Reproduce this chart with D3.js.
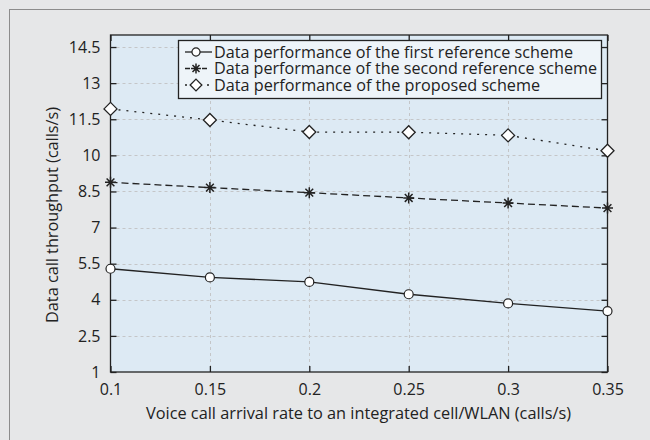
<!DOCTYPE html>
<html>
<head>
<meta charset="utf-8">
<script src="https://cdn.jsdelivr.net/npm/d3@7/dist/d3.min.js"></script>
<style>
  body { margin: 0; background: #e6e7e8; }
  svg { display: block; font-family: "Open Sans", sans-serif; }
</style>
</head>
<body>
<svg id="chart" width="650" height="440"></svg>
<script>
// data
const xValues = [0.1, 0.15, 0.2, 0.25, 0.3, 0.35];
const firstRef = [5.29, 4.93, 4.74, 4.23, 3.85, 3.53];
const secondRef = [8.88, 8.66, 8.45, 8.23, 8.02, 7.81];
const proposed = [11.93, 11.47, 10.97, 10.96, 10.83, 10.19];
const xTicks = [0.1, 0.15, 0.2, 0.25, 0.3, 0.35];
const yTicks = [1, 2.5, 4, 5.5, 7, 8.5, 10, 11.5, 13, 14.5];
const seriesNames = [
  "Data performance of the first reference scheme",
  "Data performance of the second reference scheme",
  "Data performance of the proposed scheme"
];

const width = 650, height = 440;
const plot = { left: 110.5, right: 607.5, top: 35, bottom: 372 };

const svg = d3.select("#chart");

// outer frame (right and bottom edges run off the picture)
svg.append("rect")
  .attr("x", 9.5).attr("y", 9.5)
  .attr("width", width).attr("height", height)
  .attr("fill", "#e6e7e8")
  .attr("stroke", "#8c8c8c")
  .attr("stroke-width", 1);

const x = d3.scaleLinear().domain([0.1, 0.35]).range([plot.left, plot.right]);
const y = d3.scaleLinear().domain([1, 15]).range([plot.bottom, plot.top]);

// plot background
svg.append("rect")
  .attr("x", plot.left).attr("y", plot.top)
  .attr("width", plot.right - plot.left).attr("height", plot.bottom - plot.top)
  .attr("fill", "#ddeaf4");

// grid
const grid = svg.append("g")
  .attr("stroke", "#c4c6c8")
  .attr("stroke-width", 1)
  .attr("stroke-dasharray", "3,3");
grid.selectAll(".gx").data(xTicks.slice(1, -1)).join("line")
  .attr("x1", d => Math.round(x(d)) + 0.5).attr("x2", d => Math.round(x(d)) + 0.5)
  .attr("y1", plot.top).attr("y2", plot.bottom);
grid.selectAll(".gy").data(yTicks.slice(1)).join("line")
  .attr("x1", plot.left).attr("x2", plot.right)
  .attr("y1", d => Math.round(y(d)) + 0.5).attr("y2", d => Math.round(y(d)) + 0.5);

// axes (inward ticks, mirrored box)
const tickStyle = g => {
  g.select(".domain").remove();
  g.selectAll("line").attr("stroke", "#222").attr("stroke-width", 1.3);
};
svg.append("g")
  .attr("transform", `translate(0,${plot.bottom})`)
  .call(d3.axisBottom(x).tickValues(xTicks).tickSize(-6).tickPadding(12).tickFormat(d3.format("")))
  .call(tickStyle)
  .call(g => g.selectAll("text").attr("font-size", 16).attr("fill", "#222").attr("font-family", "Open Sans"));
svg.append("g")
  .attr("transform", `translate(0,${plot.top})`)
  .call(d3.axisTop(x).tickValues(xTicks).tickSize(-6).tickFormat(""))
  .call(tickStyle);
svg.append("g")
  .attr("transform", `translate(${plot.left},0)`)
  .call(d3.axisLeft(y).tickValues(yTicks).tickSize(-6).tickPadding(10).tickFormat(d3.format("")))
  .call(tickStyle)
  .call(g => g.selectAll("text").attr("font-size", 16).attr("fill", "#222").attr("font-family", "Open Sans"));
svg.append("g")
  .attr("transform", `translate(${plot.right},0)`)
  .call(d3.axisRight(y).tickValues(yTicks).tickSize(-6).tickFormat(""))
  .call(tickStyle);

// plot box
svg.append("rect")
  .attr("x", plot.left).attr("y", plot.top)
  .attr("width", plot.right - plot.left).attr("height", plot.bottom - plot.top)
  .attr("fill", "none").attr("stroke", "#222").attr("stroke-width", 1.3);

// axis titles
svg.append("text")
  .attr("x", 358.5).attr("y", 419)
  .attr("text-anchor", "middle")
  .attr("font-size", 16).attr("fill", "#222")
  .attr("textLength", 425).attr("lengthAdjust", "spacingAndGlyphs")
  .text("Voice call arrival rate to an integrated cell/WLAN (calls/s)");
svg.append("text")
  .attr("transform", "translate(58,215) rotate(-90)")
  .attr("text-anchor", "middle")
  .attr("font-size", 16).attr("fill", "#222")
  .attr("textLength", 216).attr("lengthAdjust", "spacingAndGlyphs")
  .text("Data call throughput (calls/s)");

// markers
const drawMarker = (g, type, k = 1) => {
  if (type === "circle") {
    g.append("circle").attr("r", 4.5 * k).attr("fill", "#fff").attr("stroke", "#222").attr("stroke-width", 1.2);
  } else if (type === "diamond") {
    const r = 6.5 * k;
    g.append("path").attr("d", `M0,${-r}L${r},0L0,${r}L${-r},0Z`)
      .attr("fill", "#fff").attr("stroke", "#222").attr("stroke-width", 1.3);
  } else {
    const s = 5.5 * k, t = s * 0.707;
    g.append("path").attr("d", `M${-s},0H${s}M0,${-s}V${s}M${-t},${-t}L${t},${t}M${-t},${t}L${t},${-t}`)
      .attr("stroke", "#222").attr("stroke-width", 1.5);
  }
};

const series = [
  { name: seriesNames[0], values: firstRef, dash: null, legendDash: null, marker: "circle" },
  { name: seriesNames[1], values: secondRef, dash: "7,4", legendDash: "5,12", marker: "star" },
  { name: seriesNames[2], values: proposed, dash: "2,6", legendDash: "2,9", marker: "diamond" }
];

const line = d3.line().x((d, i) => x(xValues[i])).y(d => y(d));

series.forEach(s => {
  svg.append("path")
    .attr("d", line(s.values))
    .attr("fill", "none")
    .attr("stroke", "#222")
    .attr("stroke-width", 1.3)
    .attr("stroke-dasharray", s.dash);
  s.values.forEach((v, i) => {
    const g = svg.append("g").attr("transform", `translate(${x(xValues[i])},${y(v)})`);
    drawMarker(g, s.marker);
  });
});

// legend
const legend = svg.append("g");
legend.append("rect")
  .attr("x", 178.5).attr("y", 40.5).attr("width", 423).attr("height", 58)
  .attr("fill", "#eef4f9").attr("stroke", "#222").attr("stroke-width", 1.3);
const rowY = [52, 68.5, 85];
const textLens = [359, 383, 326];
series.forEach((s, i) => {
  const yy = rowY[i];
  legend.append("line")
    .attr("x1", 185).attr("x2", 212).attr("y1", yy).attr("y2", yy)
    .attr("stroke", "#222").attr("stroke-width", 1.3)
    .attr("stroke-dasharray", s.legendDash);
  const g = legend.append("g").attr("transform", `translate(196,${yy})`);
  drawMarker(g, s.marker, 0.9);
  legend.append("text")
    .attr("x", 214).attr("y", yy + 5.5)
    .attr("font-size", 16).attr("fill", "#222")
    .attr("textLength", textLens[i]).attr("lengthAdjust", "spacingAndGlyphs")
    .text(s.name);
});
</script>
</body>
</html>
